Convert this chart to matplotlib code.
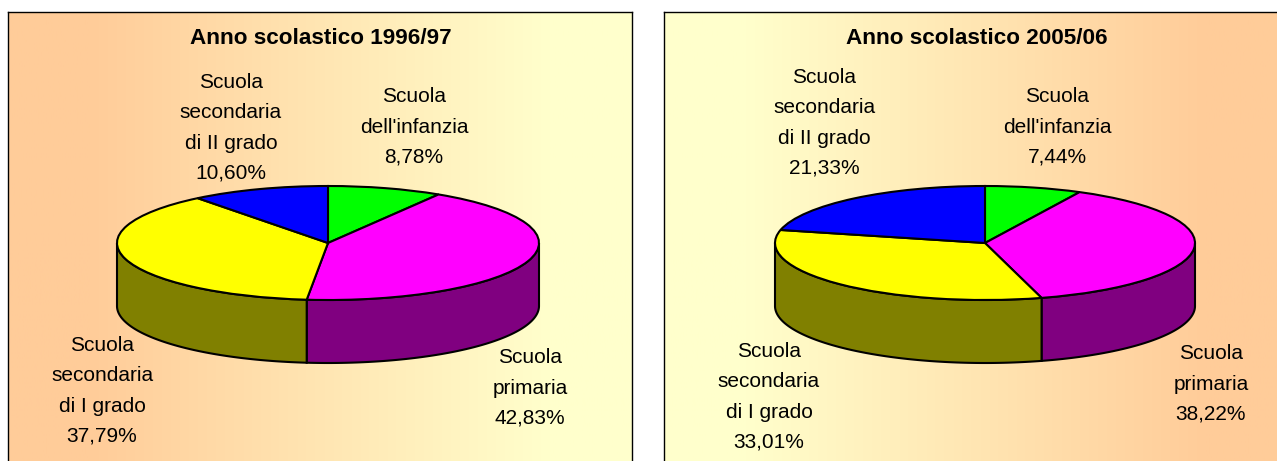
import numpy as np
import matplotlib
matplotlib.use('Agg')
import matplotlib.pyplot as plt
from matplotlib.colors import LinearSegmentedColormap

plt.rcParams['font.family'] = ['Liberation Sans', 'DejaVu Sans']

W, H = 1277, 461

titles = ['Anno scolastico 1996/97', 'Anno scolastico 2005/06']
categories = ["Scuola\ndell'infanzia", 'Scuola\nprimaria',
              'Scuola\nsecondaria\ndi I grado', 'Scuola\nsecondaria\ndi II grado']
values_9697 = [8.78, 42.83, 37.79, 10.60]
values_0506 = [7.44, 38.22, 33.01, 21.33]

top_colors = ['#00ff00', '#ff00ff', '#ffff00', '#0000ff']
side_colors = ['#008000', '#800080', '#808000', '#000080']
peach, cream = '#ffcc99', '#ffffcc'

# pixel layout of each panel: box, pie centre/radii, title and label centres
panels = [
    dict(values=values_9697, box=(8, 632), cx=328, rx=211, grad=[peach, cream], title_x=321,
         label_xy=[(414, 127), (530, 388), (102, 391), (231, 128)]),
    dict(values=values_0506, box=(664, 1288), cx=985, rx=210, grad=[cream, peach], title_x=977,
         label_xy=[(1057, 127), (1211, 384), (769, 397), (824, 123)]),
]
cy, ry, depth = 243, 57, 63
panel_top = 12


def draw_panel(p, title):
    x0, x1 = p['box']
    bg = fig.add_axes([x0 / W, 1 - (H + 10) / H, (x1 - x0) / W, (H + 10 - panel_top) / H])
    # flat colour at both ends, the blend only runs over the middle
    c0, c1 = p['grad']
    cmap = LinearSegmentedColormap.from_list('grad', [(0, c0), (0.13, c0), (0.87, c1), (1, c1)])
    bg.imshow(np.linspace(0, 1, 256).reshape(1, -1), aspect='auto', cmap=cmap)
    bg.set_xticks([])
    bg.set_yticks([])
    for s in bg.spines.values():
        s.set_linewidth(1.0)
        s.set_color('black')

    # the pie axes: unit circle squeezed to the ellipse of the top face
    cx, rx = p['cx'], p['rx']
    d = depth / ry
    pad = 4
    ax = fig.add_axes([(cx - rx - pad) / W, 1 - (cy + ry + depth + pad) / H,
                       (2 * rx + 2 * pad) / W, (2 * ry + depth + 2 * pad) / H])
    vals = np.array(p['values'])
    ax.pie(vals, colors=top_colors, startangle=90, counterclock=False, frame=True,
           wedgeprops=dict(edgecolor='black', linewidth=1.5, zorder=5))
    ax.set_aspect('auto')
    ax.set_xlim(-1 - pad / rx, 1 + pad / rx)
    ax.set_ylim(-1 - d - pad / ry, 1 + pad / ry)
    ax.axis('off')

    # side wall, only the front half of the rim shows
    edges = np.concatenate([[0], np.cumsum(vals)]) / vals.sum() * 2 * np.pi
    for i in range(len(vals)):
        a = max(edges[i], np.pi / 2)
        b = min(edges[i + 1], 3 * np.pi / 2)
        if b <= a:
            continue
        t = np.linspace(a, b, 100)
        xs = np.concatenate([np.sin(t), np.sin(t[::-1])])
        ys = np.concatenate([np.cos(t), np.cos(t[::-1]) - d])
        ax.fill(xs, ys, facecolor=side_colors[i], edgecolor='black', linewidth=1.5, zorder=2)

    for (x, y), name, v in zip(p['label_xy'], categories, vals):
        txt = name + '\n' + f'{v:.2f}'.replace('.', ',') + '%'
        over.text(x, y, txt, ha='center', va='center', multialignment='center',
                  fontsize=15, linespacing=1.75, color='black')
    over.text(p['title_x'], 39, title, ha='center', va='center', fontsize=16.2,
              fontweight='bold', color='black')


fig = plt.figure(figsize=(W / 100, H / 100), dpi=100, facecolor='white')
over = fig.add_axes([0, 0, 1, 1], zorder=10)
over.set_xlim(0, W)
over.set_ylim(H, 0)
over.axis('off')

for p, title in zip(panels, titles):
    draw_panel(p, title)

fig.savefig('out.png', dpi=100)
